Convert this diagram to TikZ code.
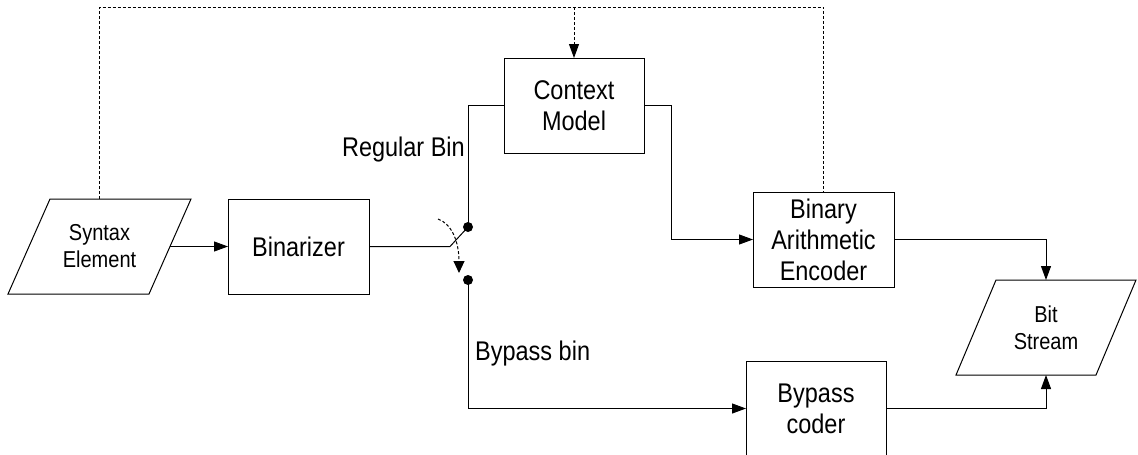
\documentclass[tikz,border=0pt]{standalone}
\usepackage{fontspec}
\setmainfont{Liberation Sans}[FakeStretch=0.87]
\usetikzlibrary{arrows.meta,calc}

\tikzset{
  block/.style={draw, line width=1pt, inner sep=0pt, outer sep=0pt,
    minimum width=141pt, minimum height=95pt, align=center,
    font=\fontsize{27}{31}\selectfont},
  iobox/.style={inner sep=0pt, outer sep=0pt,
    minimum width=141pt, minimum height=95pt, align=center,
    font=\fontsize{23}{27}\selectfont},
  wire/.style={line width=1pt},
  arr/.style={wire, -{Triangle[length=14pt,width=10pt]}},
  feedback/.style={wire, dash pattern=on 3pt off 2pt},
  pin/.style={circle, fill, inner sep=0pt, outer sep=0pt, minimum size=10pt},
  lbl/.style={inner sep=0pt, font=\fontsize{27}{31}\selectfont}
}

\begin{document}
\begin{tikzpicture}[x=1pt, y=-1pt]
  \useasboundingbox (0,0) rectangle (1138,455);

  % input / output (parallelograms)
  \node[iobox] (se) at (99.5,246.5) {Syntax\\Element};
  \draw[wire] ([xshift=-21pt]se.south west) -- ([xshift=21pt]se.north west)
    -- ([xshift=21pt]se.north east) -- ([xshift=-21pt]se.south east) -- cycle;

  \node[iobox, minimum width=140pt] (bs) at (1046,327.5) {Bit\\Stream};
  \draw[wire] ([xshift=-20pt]bs.south west) -- ([xshift=20pt]bs.north west)
    -- ([xshift=20pt]bs.north east) -- ([xshift=-20pt]bs.south east) -- cycle;

  % processing blocks
  \node[block] (bz) at (298.5,246.5) {Binarizer};
  \node[block, minimum width=140pt] (cm) at (574,105.5) {Context\\Model};
  \node[block] (bae) at (823.5,239.5) {Binary\\Arithmetic\\Encoder};
  \node[block, minimum width=140pt] (bc) at (816,408.5) {Bypass\\coder};

  % switch
  \coordinate (sw) at (450,246.5);
  \node[pin] (d1) at (468,227) {};
  \node[pin] (d2) at (468,280) {};
  \coordinate (ca) at (438,219);
  \coordinate (cb) at (459,273);

  % connections
  \draw[arr] (se.east) -- (bz.west);
  \draw[wire] (bz.east) -- (sw) -- (d1.center);
  \draw[wire] (d1.center) |- (cm.west);
  \draw[arr] (d2.center) |- (bc.west);
  \draw[arr] (cm.east) -- ++(27,0) |- (bae.west);
  \draw[arr] (bae.east) -| (bs.north);
  \draw[arr] (bc.east) -| (bs.south);
  \draw[feedback, -{Triangle[length=12pt,width=11pt]}]
    (ca) .. controls (452,224) and (459,242) .. (cb);

  % context feedback
  \coordinate (ty) at (0,7);
  \draw[feedback] (se.north) |- (ty -| bae.north) -- (bae.north);
  \draw[feedback, -{Triangle[length=14pt,width=10pt]}] (ty -| cm.north) -- (cm.north);

  % labels
  \node[lbl, anchor=base east] (rb) at (465,156) {Regular Bin};
  \node[lbl, anchor=base west] (bb) at (475,360) {Bypass bin};
\end{tikzpicture}
\end{document}
